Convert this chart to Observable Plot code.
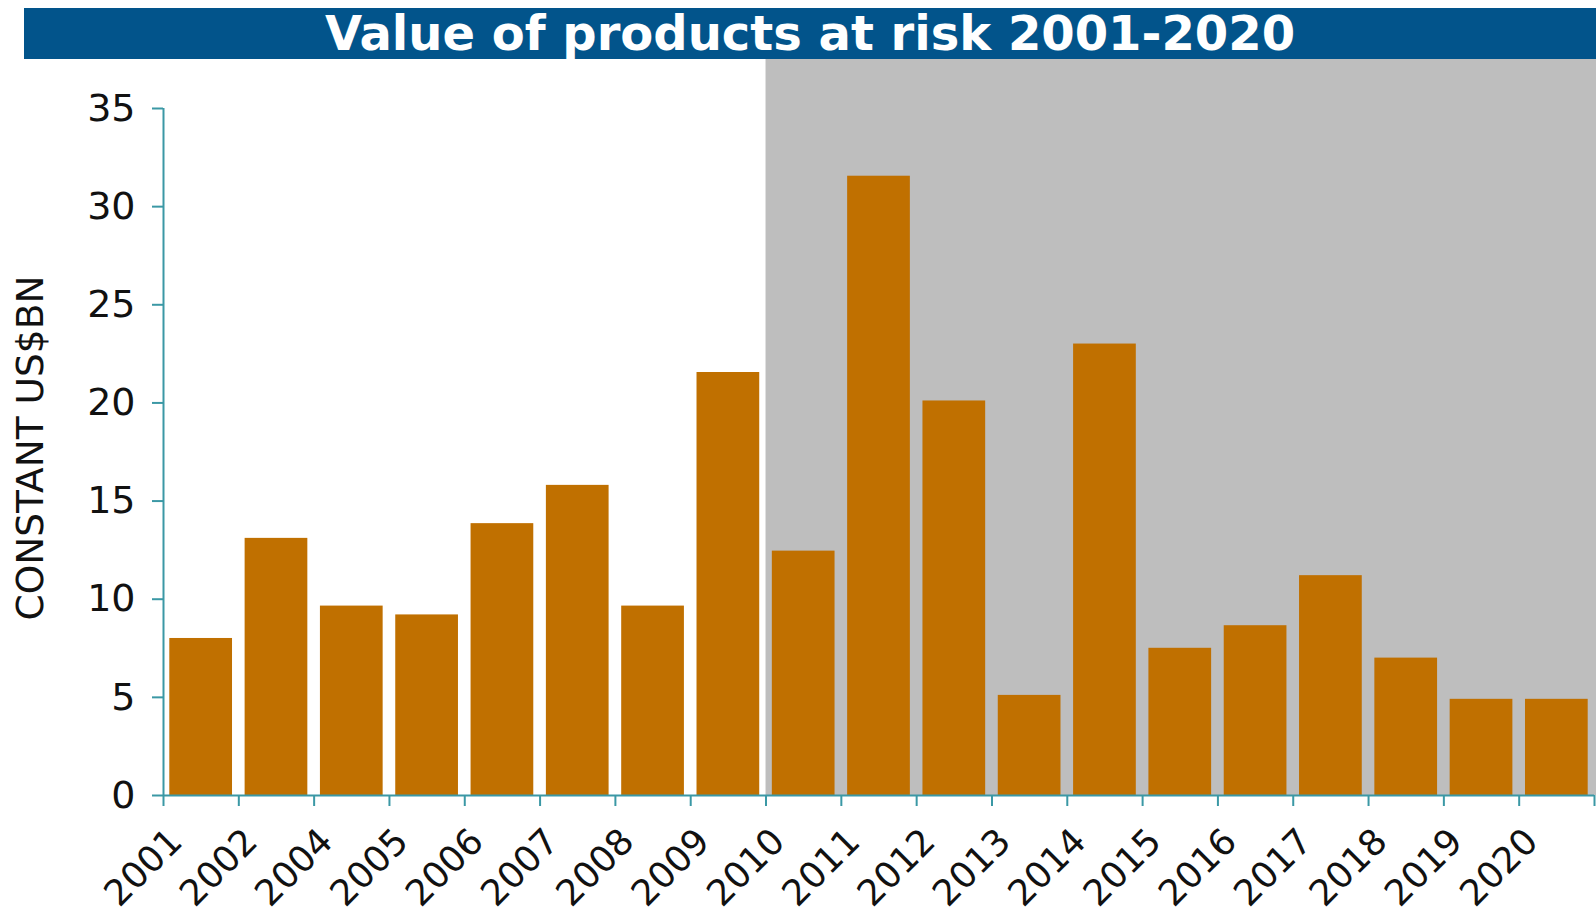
<!DOCTYPE html>
<html>
<head>
<meta charset="utf-8">
<script src="https://cdn.jsdelivr.net/npm/d3@7"></script>
<script src="https://cdn.jsdelivr.net/npm/@observablehq/plot@0.6"></script>
<style>
  html, body { margin: 0; padding: 0; background: #fff; }
  body { width: 1596px; height: 920px; overflow: hidden; font-family: "DejaVu Sans", Verdana, sans-serif; }
  #title {
    margin: 8px 0 0 24px;
    width: 1572px;
    height: 51px;
    line-height: 51px;
    background: #02548b;
    color: #fff;
    font-weight: bold;
    font-size: 48px;
    text-align: center;
    white-space: nowrap;
    overflow: visible;
  }
  #chart svg { display: block; }
</style>
</head>
<body>
<div id="title">Value of products at risk 2001-2020</div>
<div id="chart"></div>
<script>
// Years reported (2003 has no entry)
const years = ["2001", "2002", "2004", "2005", "2006", "2007", "2008", "2009", "2010",
  "2011", "2012", "2013", "2014", "2015", "2016", "2017", "2018", "2019", "2020"];
// Value of products at risk, constant US$ billions
const values = [8.0, 13.1, 9.65, 9.2, 13.85, 15.8, 9.65, 21.55, 12.45,
  31.55, 20.1, 5.1, 23.0, 7.5, 8.65, 11.2, 7.0, 4.9, 4.9];
// Highlighted period
const shadedPeriod = ["2010", "2020"];
const yTicks = [0, 5, 10, 15, 20, 25, 30, 35];
const yLabel = "CONSTANT US$BN";

const teal = "#3b98a5";
const orange = "#c07000";
const gray = "#bebebe";

const W = 1596, H = 861;
const M = {top: 49, right: 2, bottom: 125, left: 163};

const chart = Plot.plot({
  width: W,
  height: H,
  marginTop: M.top,
  marginRight: M.right,
  marginBottom: M.bottom,
  marginLeft: M.left,
  style: {fontFamily: "DejaVu Sans, Verdana, sans-serif", fontSize: "38px", color: "#000", background: "transparent", overflow: "visible"},
  x: {domain: [0, years.length], axis: null},
  y: {domain: [0, 35], axis: null},
  marks: [
    // shaded period behind the bars, reaching up to the title band
    Plot.rect([shadedPeriod], {
      x1: (d) => years.indexOf(d[0]),
      x2: (d) => years.indexOf(d[1]) + 1,
      fill: gray,
      insetTop: -M.top,
      insetRight: -M.right
    }),
    // bars, one band per reported year
    Plot.rect(values, {
      x1: (d, i) => i,
      x2: (d, i) => i + 1,
      y1: () => 0,
      y2: (d) => d,
      fill: orange,
      insetLeft: 6.3,
      insetRight: 6.3
    }),
    // y axis: ticks and numbers
    Plot.axisY({
      anchor: "left",
      ticks: yTicks,
      tickSize: 11,
      tickPadding: 17,
      stroke: teal,
      strokeWidth: 2,
      fill: "#111",
      fontSize: 38,
      label: null
    }),
    // x axis tick marks sit on the band boundaries
    Plot.axisX({
      anchor: "bottom",
      ticks: d3.range(0, years.length + 1),
      tickFormat: () => "",
      tickSize: 11,
      stroke: teal,
      strokeWidth: 2,
      label: null
    }),
    // axis lines
    Plot.ruleX([0], {y1: 0, y2: 35, stroke: teal, strokeWidth: 2}),
    Plot.ruleY([0], {stroke: teal, strokeWidth: 2}),
    // rotated year labels
    Plot.text(years, {
      x: (d, i) => i + 0.5,
      frameAnchor: "bottom",
      text: (d) => d,
      rotate: -45,
      textAnchor: "end",
      dx: -17,
      dy: 48,
      fontSize: 36,
      fill: "#111"
    }),
    // y axis title
    Plot.text([yLabel], {
      frameAnchor: "left",
      text: (d) => d,
      rotate: -90,
      textAnchor: "middle",
      dx: -(M.left - 30),
      dy: -4,
      fontSize: 37.5,
      fill: "#111"
    })
  ]
});

document.getElementById("chart").appendChild(chart);
</script>
</body>
</html>
